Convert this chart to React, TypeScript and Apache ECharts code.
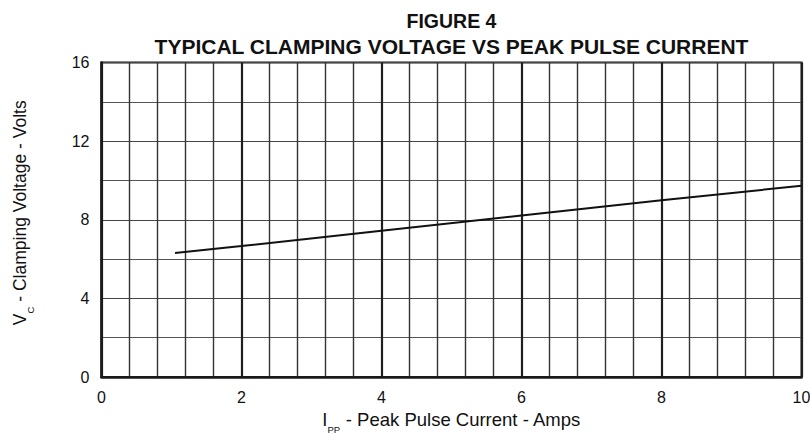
import React, { useEffect, useRef } from "react";
import * as echarts from "echarts";

const xTicks = [0, 2, 4, 6, 8, 10];
const yTicks = [0, 4, 8, 12, 16];
const currentAmps = [1.05, 2, 4, 6, 8, 10];
const clampVolts = [6.31, 6.66, 7.44, 8.22, 8.99, 9.73];
const titleLines = ["FIGURE 4", "TYPICAL CLAMPING VOLTAGE VS PEAK PULSE CURRENT"];

const FONT = "'Liberation Sans', Arial, Helvetica, sans-serif";

export default function App() {
  const ref = useRef<HTMLDivElement>(null);
  useEffect(() => {
    document.body.style.margin = "0";
    if (!ref.current) return;
    const chart = echarts.init(ref.current, undefined, { renderer: "svg" });
    const left = 101.5;
    const right = 8.5;
    const top = 62.5;
    const bottom = 57;
    const cx = left + (810 - left - right) / 2;
    const richX = {
      a: { fontSize: 18.5, lineHeight: 31, fontFamily: FONT, color: "#111" },
      s: { fontSize: 9.5, lineHeight: 10, verticalAlign: "bottom", fontFamily: FONT, color: "#111" },
    };
    const richY = {
      a: { fontSize: 17.5, lineHeight: 31, fontFamily: FONT, color: "#111" },
      s: { fontSize: 9.5, lineHeight: 10, verticalAlign: "bottom", fontFamily: FONT, color: "#111" },
    };
    chart.setOption({
      animation: false,
      backgroundColor: "#fff",
      grid: {
        left,
        right,
        top,
        bottom,
        containLabel: false,
        outerBoundsMode: "none",
        show: true,
        borderColor: "#1a1a1a",
        borderWidth: 2,
        backgroundColor: "transparent",
      },
      graphic: [
        {
          type: "text",
          x: cx,
          y: 20.5,
          style: {
            text: titleLines[0],
            align: "center",
            verticalAlign: "middle",
            font: `bold 19.5px ${FONT}`,
            fill: "#111",
          },
        },
        {
          type: "text",
          x: cx,
          y: 46.5,
          style: {
            text: titleLines[1],
            align: "center",
            verticalAlign: "middle",
            font: `bold 21px ${FONT}`,
            fill: "#111",
          },
        },
      ],
      xAxis: {
        type: "value",
        min: xTicks[0],
        max: xTicks[xTicks.length - 1],
        interval: 2,
        name: "{a|I}{s|PP}{a| - Peak Pulse Current - Amps}",
        nameLocation: "middle",
        nameGap: 24,
        nameTextStyle: { rich: richX },
        axisLine: { show: true, lineStyle: { color: "#1a1a1a", width: 2.5 } },
        axisTick: { show: false },
        axisLabel: { fontSize: 16, fontFamily: FONT, color: "#111", margin: 12 },
        splitLine: { show: true, lineStyle: { color: "#1f1f1f", width: 2.2 } },
        minorTick: { show: false, splitNumber: 5 },
        minorSplitLine: { show: true, lineStyle: { color: "#333", width: 1.4 } },
      },
      yAxis: {
        type: "value",
        min: yTicks[0],
        max: yTicks[yTicks.length - 1],
        interval: 4,
        name: "{a|V}{s|C}{a| - Clamping Voltage - Volts}",
        nameLocation: "middle",
        nameGap: 66,
        nameTextStyle: { rich: richY, padding: [0, 0, 0, 14] },
        axisLine: { show: true, lineStyle: { color: "#1a1a1a", width: 2.5 } },
        axisTick: { show: false },
        axisLabel: { fontSize: 16, fontFamily: FONT, color: "#111", margin: 12 },
        splitLine: { show: true, lineStyle: { color: "#444", width: 1.2 } },
        minorTick: { show: false, splitNumber: 2 },
        minorSplitLine: { show: true, lineStyle: { color: "#555", width: 1.2 } },
      },
      series: [
        {
          type: "line",
          data: currentAmps.map((x, i) => [x, clampVolts[i]]),
          showSymbol: false,
          symbol: "none",
          lineStyle: { color: "#111", width: 2 },
          z: 5,
        },
      ],
    });
    return () => chart.dispose();
  }, []);
  return <div ref={ref} style={{ width: 810, height: 434 }} />;
}
